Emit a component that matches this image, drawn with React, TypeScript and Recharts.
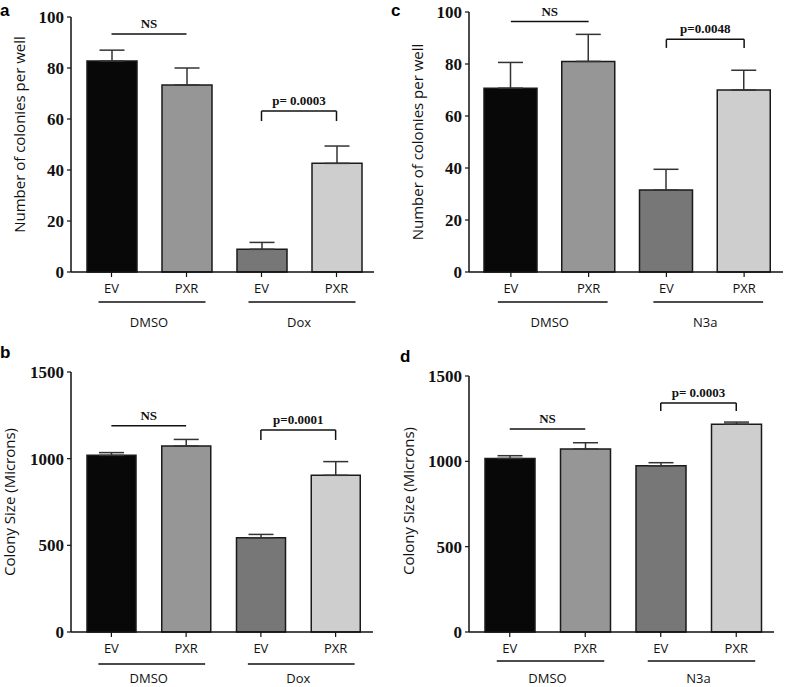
import React from "react";
import {
  BarChart,
  Bar,
  XAxis,
  YAxis,
  ErrorBar,
  Cell,
  ReferenceLine,
} from "recharts";

// x categories and treatment groups
const categories = ["EV", "PXR", "EV", "PXR"];
const doxGroups = ["DMSO", "DMSO", "Dox", "Dox"];
const n3aGroups = ["DMSO", "DMSO", "N3a", "N3a"];

// colonies per well
const colonyDoxMeans = [82.7, 73.3, 8.9, 42.6];
const colonyDoxErrors = [4.3, 6.7, 2.7, 6.8];
const colonyN3aMeans = [70.7, 81, 31.5, 70];
const colonyN3aErrors = [9.9, 10.4, 8, 7.6];

// colony size (microns)
const sizeDoxMeans = [1019, 1073, 544, 904];
const sizeDoxErrors = [16, 38, 19, 79];
const sizeN3aMeans = [1017, 1072, 974, 1218];
const sizeN3aErrors = [16, 37, 18, 12];

const colonyTicks = [0, 20, 40, 60, 80, 100];
const sizeTicks = [0, 500, 1000, 1500];

const barColors = ["#080808", "#969696", "#777777", "#cecece"];

const SERIF = "'Liberation Serif', 'Times New Roman', serif";
const SANS = "'Open Sans', 'Noto Sans', sans-serif";
const INK = "#111";

interface Panel {
  letter: string;
  letterX: number;
  letterY: number;
  left: number;
  top: number;
  width: number;
  height: number;
  margin: { top: number; right: number; bottom: number; left: number };
  yWidth: number;
  xHeight: number;
  barSize: number;
  domain: [number, number];
  ticks: number[];
  yLabel: string;
  labelX: number;
  labelDy: number;
  groups: string[];
  means: number[];
  errors: number[];
  nsY: number;
  sigText: string;
  sigY: number;
  sigLegY: number;
  lineDy: number;
  groupDy: number;
}

const PAD_LEFT = 3;

const panels: Panel[] = [
  {
    letter: "a", letterX: 0, letterY: 15.5,
    left: 0, top: 0, width: 393, height: 340,
    margin: { top: 17, right: 19, bottom: 6, left: 0 },
    yWidth: 71, xHeight: 62, barSize: 50,
    domain: [0, 100], ticks: colonyTicks,
    yLabel: "Number of colonies per well", labelX: 18.5, labelDy: -10,
    groups: doxGroups, means: colonyDoxMeans, errors: colonyDoxErrors,
    nsY: 93.3, sigText: "p= 0.0003", sigY: 63.1, sigLegY: 59.2,
    lineDy: 23, groupDy: 48,
  },
  {
    letter: "c", letterX: 391, letterY: 15.5,
    left: 393, top: 0, width: 394, height: 340,
    margin: { top: 12, right: 4, bottom: 6, left: 0 },
    yWidth: 76, xHeight: 62, barSize: 53,
    domain: [0, 100], ticks: colonyTicks,
    yLabel: "Number of colonies per well", labelX: 24, labelDy: 0,
    groups: n3aGroups, means: colonyN3aMeans, errors: colonyN3aErrors,
    nsY: 96.3, sigText: "p=0.0048", sigY: 89.5, sigLegY: 86.2,
    lineDy: 23, groupDy: 48,
  },
  {
    letter: "b", letterX: 0, letterY: 358,
    left: 0, top: 340, width: 393, height: 347,
    margin: { top: 32, right: 20, bottom: 0, left: 0 },
    yWidth: 71, xHeight: 55, barSize: 49,
    domain: [0, 1500], ticks: sizeTicks,
    yLabel: "Colony Size (Microns)", labelX: 8.5, labelDy: 0,
    groups: doxGroups, means: sizeDoxMeans, errors: sizeDoxErrors,
    nsY: 1190, sigText: "p=0.0001", sigY: 1165, sigLegY: 1108,
    lineDy: 25, groupDy: 44,
  },
  {
    letter: "d", letterX: 400, letterY: 362,
    left: 393, top: 340, width: 394, height: 347,
    margin: { top: 36, right: 13, bottom: 0, left: 0 },
    yWidth: 76, xHeight: 55, barSize: 50,
    domain: [0, 1500], ticks: sizeTicks,
    yLabel: "Colony Size (Microns)", labelX: 15, labelDy: -3,
    groups: n3aGroups, means: sizeN3aMeans, errors: sizeN3aErrors,
    nsY: 1189, sigText: "p= 0.0003", sigY: 1342, sigLegY: 1295,
    lineDy: 22, groupDy: 44,
  },
];

const buildRows = (p: Panel) =>
  categories.map((c, i) => ({
    key: `${p.groups[i]}|${c}`,
    value: p.means[i],
    err: [0, p.errors[i]],
  }));

const renderTick = (props: any, p: Panel, band: number) => {
  const { x, y, payload, index } = props;
  const [group, label] = String(payload.value).split("|");
  return (
    <g>
      <text x={x} y={y + 14} textAnchor="middle" fontFamily={SANS} fontSize={13} fill={INK}>
        {label}
      </text>
      {index % 2 === 0 && (
        <g>
          <line
            x1={x - 13}
            x2={x + band + 19}
            y1={y + p.lineDy}
            y2={y + p.lineDy}
            stroke={INK}
            strokeWidth={1.5}
          />
          <text x={x + band / 2} y={y + p.groupDy} textAnchor="middle" fontFamily={SANS} fontSize={13} fill={INK}>
            {group}
          </text>
        </g>
      )}
    </g>
  );
};

const renderYTick = (props: any) => {
  const { x, y, payload } = props;
  return (
    <text
      x={x}
      y={y}
      dy={6}
      textAnchor="end"
      fontFamily={SERIF}
      fontWeight={700}
      fontSize={17}
      fill={INK}
    >
      {payload.value}
    </text>
  );
};

const sigLabel = (value: string) => ({
  value,
  position: "top" as const,
  offset: 6,
  fill: INK,
  fontSize: 13,
  fontWeight: 700,
  fontFamily: SERIF,
});

const PanelChart = ({ p }: { p: Panel }) => {
  const rows = buildRows(p);
  const plotW = p.width - p.margin.left - p.margin.right - p.yWidth;
  const band = (plotW - PAD_LEFT) / categories.length;
  const k = rows.map((r) => r.key);
  const lineProps = { stroke: INK, strokeWidth: 1.5, ifOverflow: "visible" as const };

  return (
    <div style={{ position: "absolute", left: p.left, top: p.top }}>
      <BarChart width={p.width} height={p.height} data={rows} margin={p.margin}>
        <XAxis
          dataKey="key"
          height={p.xHeight}
          padding={{ left: PAD_LEFT, right: 0 }}
          axisLine={{ stroke: INK, strokeWidth: 1.5 }}
          tickLine={{ stroke: INK, strokeWidth: 1.2 }}
          tickSize={5}
          interval={0}
          tick={(props: any) => renderTick(props, p, band)}
        />
        <YAxis
          width={p.yWidth}
          domain={p.domain}
          ticks={p.ticks}
          interval={0}
          axisLine={{ stroke: INK, strokeWidth: 1.5 }}
          tickLine={{ stroke: INK, strokeWidth: 1.2 }}
          tickSize={4}
          tickMargin={3}
          tick={renderYTick}
          label={{
            content: ({ viewBox }: any) => {
              const cy = viewBox.y + viewBox.height / 2 + p.labelDy;
              return (
                <text
                  x={p.labelX}
                  y={cy}
                  transform={`rotate(-90 ${p.labelX} ${cy})`}
                  textAnchor="middle"
                  dominantBaseline="central"
                  fontFamily={SANS}
                  fontSize={15}
                  fill={INK}
                >
                  {p.yLabel}
                </text>
              );
            },
          }}
        />
        <Bar
          dataKey="value"
          barSize={p.barSize}
          stroke="#1a1a1a"
          strokeWidth={1.5}
          isAnimationActive={false}
        >
          {rows.map((r, i) => (
            <Cell key={r.key} fill={barColors[i]} />
          ))}
          <ErrorBar dataKey="err" width={12.5} stroke="#333" strokeWidth={1.5} direction="y" />
        </Bar>

        <ReferenceLine
          segment={[{ x: k[0], y: p.nsY }, { x: k[1], y: p.nsY }]}
          {...lineProps}
          label={sigLabel("NS")}
        />
        <ReferenceLine
          segment={[{ x: k[2], y: p.sigY }, { x: k[3], y: p.sigY }]}
          {...lineProps}
          label={sigLabel(p.sigText)}
        />
        <ReferenceLine segment={[{ x: k[2], y: p.sigY }, { x: k[2], y: p.sigLegY }]} {...lineProps} />
        <ReferenceLine segment={[{ x: k[3], y: p.sigY }, { x: k[3], y: p.sigLegY }]} {...lineProps} />
      </BarChart>
    </div>
  );
};

export default function App() {
  return (
    <div
      style={{
        position: "absolute",
        left: 0,
        top: 0,
        width: 787,
        height: 687,
        background: "#fff",
      }}
    >
      {panels.map((p) => (
        <PanelChart key={p.letter} p={p} />
      ))}
      <svg
        width={787}
        height={687}
        style={{ position: "absolute", left: 0, top: 0, pointerEvents: "none" }}
      >
        {panels.map((p) => (
          <text
            key={p.letter}
            x={p.letterX}
            y={p.letterY}
            fontFamily="'Liberation Sans', Arial, sans-serif"
            fontWeight={700}
            fontSize={17}
            fill="#000"
          >
            {p.letter}
          </text>
        ))}
      </svg>
    </div>
  );
}
